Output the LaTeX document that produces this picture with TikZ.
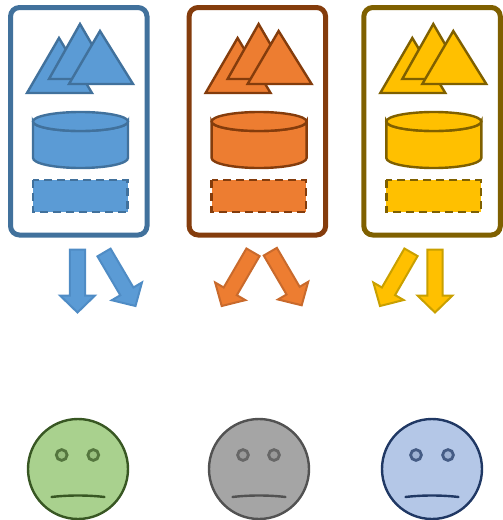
\documentclass[tikz,border=0pt]{standalone}
\usetikzlibrary{calc}
\definecolor{bluefill}{HTML}{5B9BD5}\definecolor{blueline}{HTML}{41719C}\definecolor{bluearrow}{HTML}{4F8CC5}
\definecolor{orangefill}{HTML}{ED7D31}\definecolor{orangeline}{HTML}{843C0C}\definecolor{orangearrow}{HTML}{C96A2C}
\definecolor{yellowfill}{HTML}{FFC000}\definecolor{yellowline}{HTML}{7F6000}\definecolor{yellowarrow}{HTML}{C9A000}
\definecolor{greenfill}{HTML}{A9D18E}\definecolor{greenline}{HTML}{385723}
\definecolor{grayfill}{HTML}{A5A5A5}\definecolor{grayline}{HTML}{525252}
\definecolor{paleblue}{HTML}{B4C7E7}\definecolor{navyline}{HTML}{203864}
\tikzset{
  frame/.style={draw=#1,line width=5pt,rounded corners=9pt,fill=white},
  part/.style 2 args={draw=#2,fill=#1,line width=2.4pt,line join=miter},
  dashpart/.style={draw=#1,line width=2.6pt,dash pattern=on 8pt off 5pt},
  blockarrow/.style 2 args={draw=#2,fill=#1,line width=2pt,line join=miter},
  facepart/.style 2 args={draw=#2,fill=#1,line width=2.4pt},
  eyepart/.style 2 args={draw=#2!75!#1,fill=#1!85!#2,line width=2.8pt},
  mouth/.style={draw=#1,line width=2.4pt,line cap=round}
}
\newcommand\tower[3]{% x offset, fill, line
  \begin{scope}[xshift=#1pt]
    \draw[frame=#3] (10.5,7.5) rectangle (147,235);
    \draw[part={#2}{#3}] (59,38) -- (27,93) -- (92,93) -- cycle;
    \draw[part={#2}{#3}] (80,24) -- (49,79) -- (112,79) -- cycle;
    \draw[part={#2}{#3}] (100,31) -- (69,84) -- (133,84) -- cycle;
    \draw[part={#2}{#3}] (33,121.5) -- (33,158) arc[start angle=180,end angle=0,x radius=47.5,y radius=10]
      -- (128,121.5) arc[start angle=0,end angle=180,x radius=47.5,y radius=9.5] -- cycle;
    \draw[part={#2}{#3}] (80.5,121.5) ellipse[x radius=47.5,y radius=9.5];
    \fill[#2] (33,180) rectangle (127.5,212);
    \draw[dashpart=#3] (33,180) rectangle (127.5,212);
  \end{scope}}
\newcommand\barrow[3]{% start, tip, style
  \coordinate (s) at #1; \coordinate (t) at #2;
  \coordinate (n) at ($(t)!17pt!(s)$);
  \draw[#3] ($(s)!7.6pt!90:(t)$) -- ($(n)!7.6pt!90:(t)$) -- ($(n)!17.5pt!90:(t)$) -- (t)
    -- ($(n)!17.5pt!-90:(t)$) -- ($(n)!7.6pt!-90:(t)$) -- ($(s)!7.6pt!-90:(t)$) -- cycle;}
\newcommand\face[5]{% cx, left eye, right eye, fill, line
  \draw[facepart={#4}{#5}] (#1,469) circle[radius=50];
  \draw[eyepart={#4}{#5}] (#2,455) circle[radius=5.4];
  \draw[eyepart={#4}{#5}] (#3,455) circle[radius=5.4];
  \draw[mouth=#5] (#1-26.5,497) .. controls (#1-10,495) and (#1+10,495) .. (#1+26.5,497);}
\begin{document}
\begin{tikzpicture}[x=1pt,y=-1pt]
  \useasboundingbox (0,0) rectangle (503,520);
  \tower{0}{bluefill}{blueline}
  \tower{178.6}{orangefill}{orangeline}
  \tower{353.3}{yellowfill}{yellowline}
  \barrow{(77.5,249.5)}{(77.5,312.5)}{blockarrow={bluefill}{bluearrow}}
  \barrow{(104,252.5)}{(135.5,306)}{blockarrow={bluefill}{bluearrow}}
  \barrow{(253,252.3)}{(221.7,306)}{blockarrow={orangefill}{orangearrow}}
  \barrow{(270.3,251.7)}{(301.7,305.3)}{blockarrow={orangefill}{orangearrow}}
  \barrow{(411,252.3)}{(380,306)}{blockarrow={yellowfill}{yellowarrow}}
  \barrow{(435,249.5)}{(435,312.5)}{blockarrow={yellowfill}{yellowarrow}}
  \face{78}{61.7}{93.3}{greenfill}{greenline}
  \face{259}{243}{274}{grayfill}{grayline}
  \face{432}{416}{448}{paleblue}{navyline}
\end{tikzpicture}
\end{document}
